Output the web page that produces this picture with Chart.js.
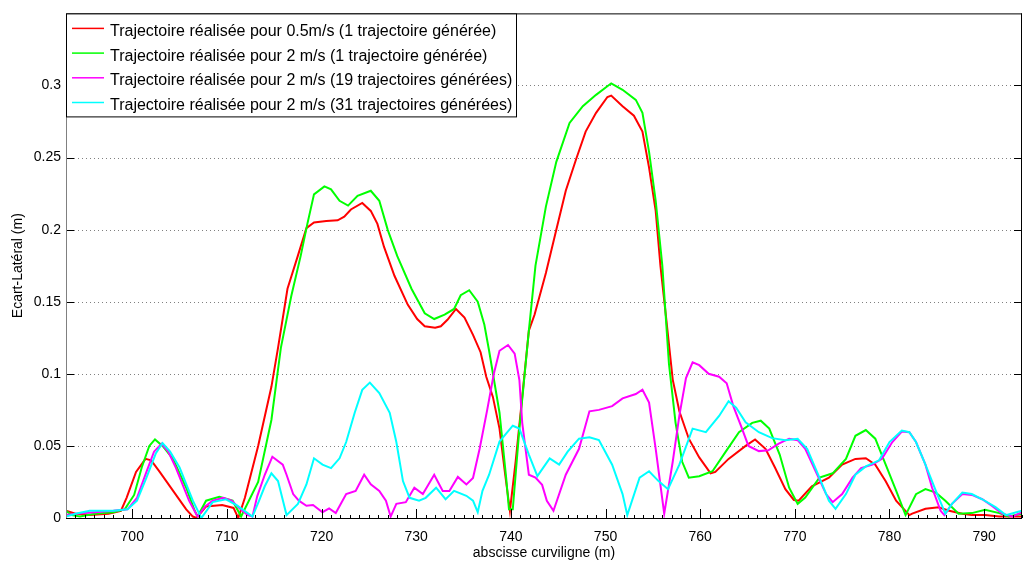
<!DOCTYPE html>
<html lang="fr">
<head>
<meta charset="UTF-8">
<title>Ecart latéral</title>
<script src="https://cdn.jsdelivr.net/npm/chart.js"></script>
<style>
    body { margin: 0; background: #fff; }
    #wrap { width: 1023px; height: 568px; position: relative; }
</style>
</head>
<body>
<div id="wrap"><canvas id="ecartChart"></canvas></div>
<script>
// Données (abscisse curviligne en m, écart latéral en m)
const seriesLabels = [
    'Trajectoire réalisée pour 0.5m/s (1 trajectoire générée)',
    'Trajectoire réalisée pour 2 m/s (1 trajectoire générée)',
    'Trajectoire réalisée pour 2 m/s (19 trajectoires générées)',
    'Trajectoire réalisée pour 2 m/s (31 trajectoires générées)'
];
const seriesColors = ['#ff0000', '#00ff00', '#ff00ff', '#00ffff'];

const xTicks = [700, 710, 720, 730, 740, 750, 760, 770, 780, 790];
const yTicks = [0, 0.05, 0.1, 0.15, 0.2, 0.25, 0.3];

const redX = [693, 694, 695.5, 697.5, 698.8, 699.4, 700.4, 701.4, 702, 702.9, 704.3, 705.7, 706.4, 706.8, 707.8, 709.5, 710.7, 711.2,
    711.9, 713.3, 714.7, 715.4, 716.4, 717.5, 718.4, 719.2, 720.5, 721.7, 722.4, 723.1, 724.3, 725.2, 725.9, 726.6, 727.7, 729.1,
    730.1, 730.9, 732, 732.6, 733.3, 734.2, 735.1, 736, 736.8, 737.4, 738.1, 738.8, 739.4, 739.9, 740.5, 741.2, 741.9, 742.5,
    743.7, 744.8, 745.8, 746.9, 747.9, 749, 750.2, 750.6, 751.8, 753, 753.9, 754.6, 755.3, 755.8, 756.4, 757.1, 757.8, 758.8,
    759.9, 761.1, 761.6, 763, 764.8, 765.8, 766.9, 767.9, 769, 769.9, 770.4, 771.8, 773.6, 775, 776.4, 777.5, 778.5, 779.6,
    780.7, 782.1, 782.4, 783.8, 785.2, 786.3, 787.7, 788.7, 790.1, 791.6, 794];
const redY = [0.005, 0.003, 0.002, 0.003, 0.005, 0.014, 0.032, 0.041, 0.040, 0.032, 0.019, 0.006, 0.001, 0.0, 0.008, 0.009, 0.007, 0.0,
    0.014, 0.05, 0.091, 0.118, 0.159, 0.182, 0.201, 0.205, 0.206, 0.2065, 0.209, 0.214, 0.2185, 0.213, 0.204, 0.188, 0.168, 0.148,
    0.138, 0.133, 0.132, 0.133, 0.1375, 0.145, 0.139, 0.127, 0.115, 0.098, 0.084, 0.062, 0.030, 0.005, 0.039, 0.084, 0.13, 0.141,
    0.17, 0.2, 0.227, 0.249, 0.268, 0.281, 0.292, 0.293, 0.2856, 0.279, 0.268, 0.243, 0.213, 0.175, 0.139, 0.096, 0.074, 0.055,
    0.042, 0.031, 0.032, 0.041, 0.05, 0.0545, 0.048, 0.035, 0.02, 0.0125, 0.012, 0.022, 0.028, 0.037, 0.041, 0.0415, 0.037, 0.0255,
    0.012, 0.002, 0.003, 0.0064, 0.0075, 0.005, 0.003, 0.002, 0.002, 0.001, 0.001];

const greenX = [693, 693.6, 694.5, 696, 698, 699.2, 700.2, 701, 701.8, 702.4, 703.2, 704.3, 705.7, 706.6, 706.9, 707.8, 709.2, 710.6,
    711.5, 713.3, 714.7, 715.7, 716.8, 717.8, 718.5, 719.2, 720.3, 721, 721.9, 722.8, 723.8, 725.2, 726.1, 727, 728, 729.5, 730.9,
    731.9, 733, 734, 734.7, 735.6, 736.5, 737.2, 737.7, 738.8, 739.5, 739.8, 740.2, 740.9, 741.9, 742.6, 743.7, 744.8, 746.2,
    747.6, 749, 750.6, 751.8, 753.2, 753.9, 754.6, 755.3, 756, 756.7, 757.4, 758.1, 758.8, 759.9, 761.3, 762.7, 764.1, 765.5,
    766.4, 767.3, 768.4, 769.4, 770.3, 771.1, 772.6, 774, 775.4, 776.4, 777.5, 778.5, 779.6, 780.7, 781.7, 782.8, 783.8, 784.9,
    785.9, 787.3, 788.7, 790.1, 791.6, 792.6, 794];
const greenY = [0.005, 0.002, 0.001, 0.003, 0.004, 0.006, 0.016, 0.035, 0.050, 0.0545, 0.050, 0.041, 0.021, 0.005, 0.001, 0.012, 0.0147, 0.012,
    0.001, 0.025, 0.068, 0.118, 0.154, 0.182, 0.204, 0.2245, 0.23, 0.228, 0.22, 0.2167, 0.2235, 0.227, 0.22, 0.1997, 0.1816, 0.159, 0.142,
    0.138, 0.141, 0.145, 0.1545, 0.158, 0.15, 0.134, 0.116, 0.073, 0.028, 0.006, 0.006, 0.062, 0.13, 0.175, 0.216, 0.247, 0.274,
    0.2856, 0.2935, 0.3015, 0.297, 0.29, 0.281, 0.254, 0.22, 0.175, 0.107, 0.066, 0.039, 0.028, 0.029, 0.0324, 0.046, 0.0595, 0.066,
    0.0675, 0.062, 0.044, 0.021, 0.0098, 0.0142, 0.028, 0.031, 0.041, 0.057, 0.061, 0.055, 0.037, 0.019, 0.002, 0.0165, 0.02, 0.0176,
    0.012, 0.003, 0.0034, 0.0057, 0.0034, 0.001, 0.003];

const magentaX = [693, 694, 696, 698, 699.5, 700.5, 701.5, 702.3, 703.1, 703.8, 704.6, 706, 706.9, 707.7, 708.5, 709.6, 710.5, 711.2,
    712.2, 712.7, 713.2, 714, 714.8, 715.9, 716.3, 717, 717.6, 718.4, 719.1, 720.1, 720.8, 721.5, 722.6, 723.6, 724.5, 725.2,
    726.1, 726.8, 727.3, 727.9, 728.9, 729.8, 730.7, 731.9, 732.8, 733.5, 734.4, 735.3, 736, 736.7, 737.5, 738.2, 738.8, 739.7,
    740.4, 740.9, 741.2, 741.9, 742.6, 743.3, 743.8, 744.5, 745.8, 747.2, 748.3, 749.3, 750.7, 751.8, 753.2, 753.9, 754.6, 755.3,
    756.2, 757.1, 757.8, 758.5, 759.2, 759.9, 760.9, 762, 762.8, 763.5, 764.3, 765.1, 766.2, 767.2, 768.3, 769.4, 770.3, 771.1,
    772.2, 773.3, 774, 775, 776.1, 777, 778.2, 779.2, 780.3, 781.3, 782.1, 782.8, 783.8, 784.5, 785.4, 785.8, 786.6, 787.7,
    788.7, 789.8, 790.8, 791.9, 793, 794];
const magentaY = [0.002, 0.003, 0.004, 0.005, 0.006, 0.014, 0.032, 0.046, 0.0515, 0.046, 0.035, 0.012, 0.001, 0.008, 0.012, 0.014, 0.012, 0.0075,
    0.002, 0.001, 0.015, 0.03, 0.0425, 0.037, 0.03, 0.0166, 0.012, 0.0085, 0.009, 0.004, 0.0066, 0.0034, 0.0166, 0.0188, 0.030, 0.0233,
    0.0188, 0.012, 0.001, 0.0098, 0.011, 0.021, 0.0166, 0.030, 0.0188, 0.0188, 0.0285, 0.0233, 0.0278, 0.048, 0.075, 0.1, 0.116, 0.12,
    0.114, 0.0957, 0.066, 0.030, 0.028, 0.023, 0.012, 0.005, 0.030, 0.048, 0.074, 0.075, 0.0776, 0.083, 0.086, 0.089, 0.08, 0.048,
    0.003, 0.039, 0.071, 0.097, 0.108, 0.106, 0.100, 0.098, 0.0934, 0.0776, 0.064, 0.050, 0.0464, 0.047, 0.0516, 0.055, 0.054, 0.048,
    0.0324, 0.0166, 0.011, 0.0166, 0.028, 0.0346, 0.037, 0.041, 0.0527, 0.060, 0.0595, 0.0527, 0.037, 0.021, 0.005, 0.002, 0.0098, 0.0166,
    0.016, 0.013, 0.0086, 0.003, 0.001, 0.004];

const cyanX = [693, 694, 695.5, 698, 699.5, 700.5, 701.5, 702.5, 703.2, 704, 705, 706.4, 707.3, 708.5, 709.9, 711.1, 712.7, 713.4,
    714, 714.7, 715.4, 716.3, 717.5, 718.4, 719.2, 720.1, 721, 721.9, 722.6, 723.5, 724.3, 725.1, 726.1, 727.2, 727.9, 728.6,
    729.3, 730.3, 731, 732.1, 733.1, 734, 735.3, 736, 736.5, 737, 737.7, 738.8, 740.2, 740.9, 741.9, 742.8, 744.1, 745.1, 746,
    747.2, 748.3, 749.3, 750.7, 751.8, 752.3, 753.6, 754.6, 755.6, 756.6, 757.8, 759.2, 760.6, 762, 763, 763.8, 764.8, 766.2,
    767.6, 769, 770.3, 771.3, 772.6, 773.6, 774.3, 775.4, 776.4, 777.5, 778.9, 780, 781.3, 782.1, 782.8, 783.8, 784.9, 785.9,
    786.6, 787.7, 788.7, 789.8, 791.2, 792.3, 793.4, 794];
const cyanY = [0.001, 0.003, 0.005, 0.005, 0.006, 0.012, 0.028, 0.045, 0.052, 0.046, 0.035, 0.012, 0.0, 0.011, 0.013, 0.0086, 0.001, 0.012,
    0.022, 0.031, 0.0256, 0.002, 0.0098, 0.0233, 0.0414, 0.037, 0.0346, 0.0414, 0.0527, 0.073, 0.0889, 0.0939, 0.0866, 0.073, 0.0527, 0.0256,
    0.014, 0.012, 0.014, 0.021, 0.013, 0.0188, 0.0154, 0.012, 0.004, 0.0188, 0.030, 0.053, 0.064, 0.062, 0.044, 0.029, 0.0414, 0.037, 0.046,
    0.055, 0.056, 0.054, 0.037, 0.0166, 0.002, 0.028, 0.0324, 0.0256, 0.020, 0.037, 0.062, 0.0595, 0.0708, 0.081, 0.0765, 0.0663, 0.0595,
    0.0554, 0.054, 0.055, 0.048, 0.028, 0.012, 0.0064, 0.0166, 0.030, 0.0358, 0.040, 0.0527, 0.0606, 0.0595, 0.0527, 0.037, 0.0188, 0.003,
    0.0098, 0.0176, 0.0166, 0.013, 0.0075, 0.002, 0.004, 0.005];

const xsList = [redX, greenX, magentaX, cyanX];
const ysList = [redY, greenY, magentaY, cyanY];

const FONT = "'Liberation Sans', Arial, sans-serif";
Chart.defaults.font.family = FONT;
Chart.defaults.font.size = 14;
Chart.defaults.color = '#000';

// quadrillage pointillé, cadre, graduations internes et légende façon Matlab
const matlabFrame = {
    id: 'matlabFrame',
    beforeDatasetsDraw(chart) {
        const { ctx, chartArea: a, scales } = chart;
        ctx.save();
        ctx.strokeStyle = '#808080';
        ctx.lineWidth = 1;
        ctx.setLineDash([1, 3]);
        yTicks.forEach(v => {
            if (v === 0) return;
            const y = Math.round(scales.y.getPixelForValue(v)) + 0.5;
            ctx.beginPath();
            ctx.moveTo(a.left, y);
            ctx.lineTo(a.right, y);
            ctx.stroke();
        });
        ctx.restore();
    },
    afterDraw(chart) {
        const { ctx, chartArea: a, scales } = chart;
        ctx.save();
        ctx.lineWidth = 1;
        // graduations x
        ctx.strokeStyle = '#000';
        for (let v = Math.ceil(scales.x.min); v <= scales.x.max; v++) {
            const x = Math.round(scales.x.getPixelForValue(v)) + 0.5;
            const len = v % 10 === 0 ? 9 : 3;
            ctx.beginPath();
            ctx.moveTo(x, a.bottom);
            ctx.lineTo(x, a.bottom - len);
            ctx.stroke();
        }
        // graduations y
        yTicks.forEach(v => {
            const y = Math.round(scales.y.getPixelForValue(v)) + 0.5;
            ctx.beginPath();
            ctx.moveTo(a.left, y);
            ctx.lineTo(a.left + 8, y);
            ctx.moveTo(a.right, y);
            ctx.lineTo(a.right - 8, y);
            ctx.stroke();
        });
        // cadre
        ctx.strokeStyle = '#000';
        ctx.beginPath();
        ctx.moveTo(a.left, a.top + 0.5);
        ctx.lineTo(a.right, a.top + 0.5);
        ctx.moveTo(a.left, a.bottom + 0.5);
        ctx.lineTo(a.right, a.bottom + 0.5);
        ctx.moveTo(a.right - 0.5, a.top);
        ctx.lineTo(a.right - 0.5, a.bottom);
        ctx.stroke();
        ctx.strokeStyle = '#808080';
        ctx.beginPath();
        ctx.moveTo(a.left + 0.5, a.top);
        ctx.lineTo(a.left + 0.5, a.bottom);
        ctx.stroke();

        // légende
        const lx = a.left + 0.5, ly = a.top + 0.5, lw = 450, lh = 103;
        ctx.fillStyle = '#fff';
        ctx.fillRect(lx, ly, lw, lh);
        ctx.strokeStyle = '#000';
        ctx.strokeRect(lx, ly, lw, lh);
        ctx.font = '16px ' + FONT;
        ctx.textBaseline = 'middle';
        ctx.fillStyle = '#000';
        seriesLabels.forEach((label, i) => {
            const y = a.top + 15 + i * 24.7;
            ctx.strokeStyle = seriesColors[i];
            ctx.lineWidth = 1.5;
            ctx.beginPath();
            ctx.moveTo(a.left + 6, y);
            ctx.lineTo(a.left + 38, y);
            ctx.stroke();
            ctx.fillText(label, a.left + 44, y + 3);
        });
        ctx.restore();
    }
};

const datasets = seriesLabels.map((label, i) => ({
    label: label,
    data: xsList[i].map((x, k) => ({ x: x, y: ysList[i][k] })),
    borderColor: seriesColors[i],
    backgroundColor: seriesColors[i],
    borderWidth: 2,
    pointRadius: 0,
    tension: 0,
    fill: false,
    order: seriesLabels.length - 1 - i
}));

new Chart(document.getElementById('ecartChart'), {
    type: 'line',
    data: { datasets: datasets },
    options: {
        responsive: true,
        maintainAspectRatio: false,
        animation: false,
        events: [],
        layout: { padding: { top: 6, right: 1, left: 0, bottom: 0 } },
        plugins: {
            legend: { display: false },
            tooltip: { enabled: false }
        },
        scales: {
            x: {
                type: 'linear',
                min: 693,
                max: 794,
                grid: { display: false, drawTicks: false },
                border: { display: false },
                afterBuildTicks: s => { s.ticks = xTicks.map(v => ({ value: v })); },
                afterFit: s => { s.height = 50; },
                ticks: { padding: 11, maxRotation: 0, callback: v => String(v) },
                title: { display: true, text: 'abscisse curviligne (m)', padding: { top: 0, bottom: 6 } }
            },
            y: {
                type: 'linear',
                min: 0,
                max: 0.35,
                grid: { display: false, drawTicks: false },
                border: { display: false },
                afterBuildTicks: s => { s.ticks = yTicks.map(v => ({ value: v })); },
                afterFit: s => { s.width = 66; },
                ticks: { padding: 5, callback: v => String(v) },
                title: { display: true, text: 'Ecart-Latéral (m)', padding: { top: 10, bottom: 0 } }
            }
        }
    },
    plugins: [matlabFrame]
});
</script>
</body>
</html>
